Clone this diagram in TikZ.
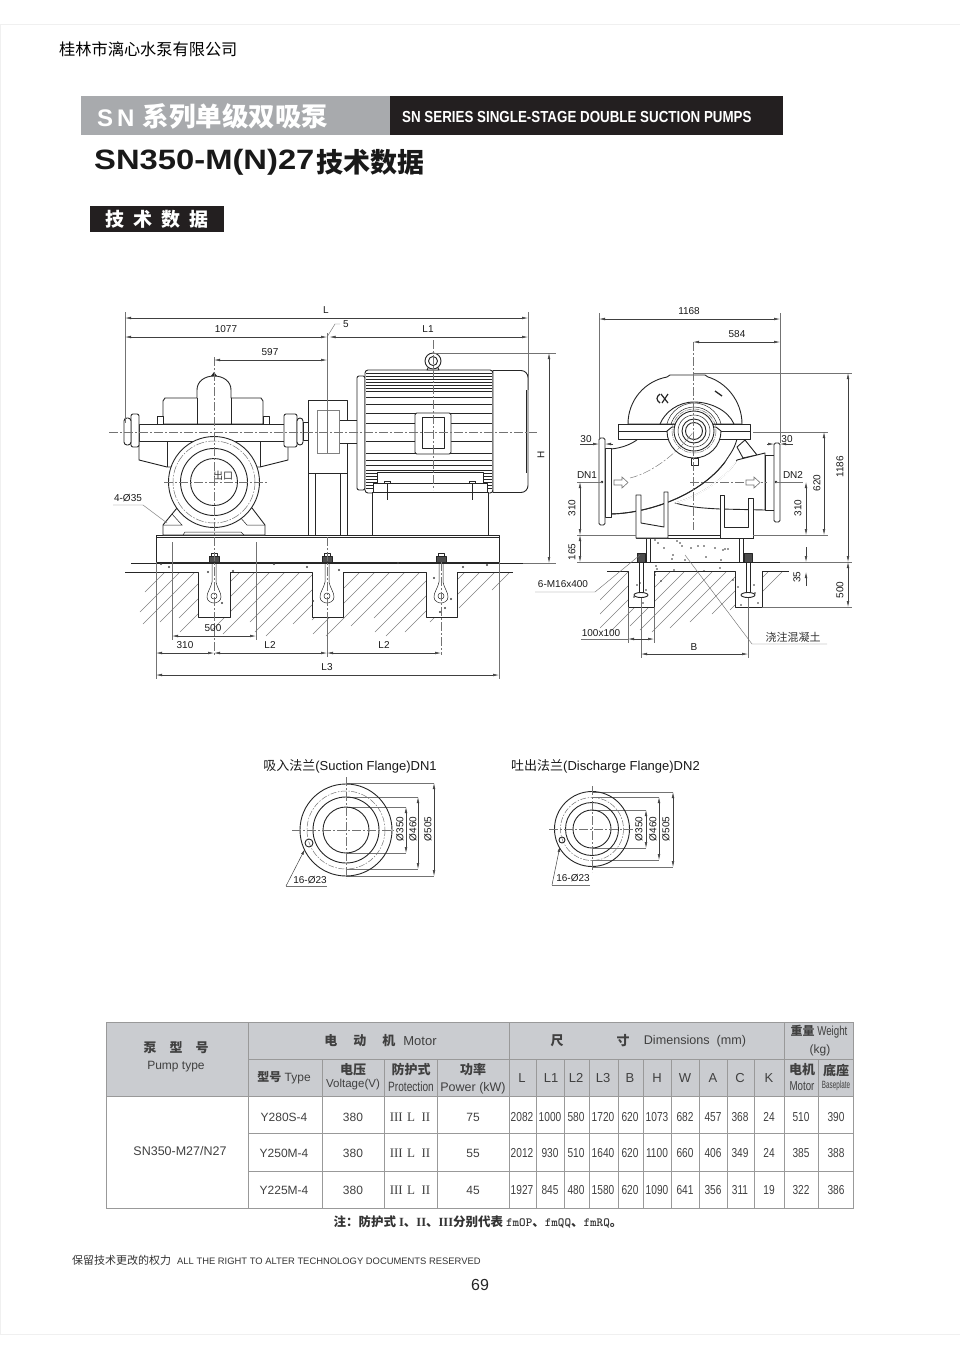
\documentclass[tikz,border=0pt]{standalone}
\usepackage{fontspec}
\setmainfont{Liberation Sans}
\newfontfamily\zhfont{Noto Sans CJK SC}
\newfontfamily\narrowfont[FakeStretch=0.78]{Liberation Sans}
\newfontfamily\condfont[FakeStretch=0.75]{Liberation Sans}
\newfontfamily\tightfont[FakeStretch=0.6]{Liberation Sans}
\newfontfamily\bannerfont[FakeStretch=0.835]{Liberation Sans}
\newfontfamily\widefont[FakeStretch=1.17]{Liberation Sans}
\newfontfamily\romanfont{Liberation Serif}
\newcommand{\zh}[1]{{\zhfont #1}}
\newcommand{\size}[1]{\fontsize{#1}{#1}\selectfont}
\usetikzlibrary{arrows.meta}
\colorlet{ink}{black!85}
\colorlet{faint}{black!55}
\definecolor{headgray}{RGB}{202,204,208}
\definecolor{bannergray}{RGB}{168,170,173}
\definecolor{bannerblack}{RGB}{35,31,32}

\begin{document}
\begin{tikzpicture}[x=1pt,y=-1pt]
\tikzstyle{part}=[draw=ink,line width=0.9pt,line join=round]
\tikzstyle{fine}=[draw=ink,line width=0.5pt]
\tikzstyle{axis}=[draw=faint,line width=0.45pt,dash pattern=on 9pt off 2pt on 2pt off 2pt]
\tikzstyle{ext}=[draw=faint,line width=0.45pt]
\tikzstyle{dim}=[draw=black!75,line width=0.5pt,{Latex[length=6pt,width=2.6pt]}-{Latex[length=6pt,width=2.6pt]}]
\tikzstyle{tip}=[draw=black!75,line width=0.5pt,-{Latex[length=6pt,width=2.6pt]}]
\tikzstyle{hatch}=[draw=black!50,line width=0.45pt]
\tikzstyle{label}=[inner sep=0pt,text=black!90,font=\size{10}]
\tikzstyle{grid}=[draw=black!40,line width=0.6pt]
\tikzstyle{cell}=[inner sep=0pt,text=black!75,font=\size{12}]
\tikzstyle{numb}=[inner sep=0pt,text=black!75,font=\narrowfont\size{13}]
\useasboundingbox (0,0) rectangle (960,1358);

\draw [draw=black!6,line width=0.8pt] (0,24) rectangle (961,1334);

\node [inner sep=0pt,anchor=west,font=\zhfont\size{16.2}] (company) at(59,49) {桂林市漓心水泵有限公司};

\fill [bannergray] (81,96) rectangle (390,135);
\fill [bannerblack] (390,96) rectangle (783,135);
\node [inner sep=0pt,anchor=west,text=white,font=\bfseries\size{24}] (bannerzh) at(97,116) {S\,N\,\,\zh{\bfseries\size{26.5}系列单级双吸泵}};
\node [inner sep=0pt,anchor=west,text=white,font=\bannerfont\bfseries\size{16}] (banneren) at(402,117) {SN SERIES SINGLE-STAGE DOUBLE SUCTION PUMPS};
\node [inner sep=0pt,anchor=west,text=black!90,font=\widefont\bfseries\size{28}] (title) at(94,162) {SN350-M(N)27};
\node [inner sep=0pt,anchor=west,text=black!90,font=\zhfont\bfseries\size{27}] (titlezh) at(316,162) {技术数据};
\fill [bannerblack] (90,206) rectangle (224,232);
\node [inner sep=0pt,text=white,font=\zhfont\bfseries\size{19}] (section) at(157,219) {技\hspace{9pt}术\hspace{9pt}数\hspace{9pt}据};

\begin{scope}
\clip (120,572) -- (198,572) -- (198,617) -- (230,617) -- (230,572) -- (312,572) -- (312,617) -- (343,617) -- (343,572) -- (426,572) -- (426,617) -- (457,617) -- (457,572) -- (530,572) -- (530,660) -- (120,660) -- cycle;
\foreach \x/\hlen in {165/20,180/40,195/52,210/50,225/46,240/60,255/44,270/58,285/62,300/50,315/60,330/64,345/52,360/48,375/62,390/64,405/54,420/46,435/60,450/64,465/60,480/50,495/36,510/18}
\draw [hatch] (\x,572) -- ++(-\hlen,\hlen);
\end{scope}
\begin{scope}
\clip (600,572) -- (628,572) -- (628,607) -- (654,607) -- (654,571) -- (735,571) -- (735,607) -- (762,607) -- (762,572) -- (800,572) -- (800,660) -- (600,660) -- cycle;
\foreach \x/\hlen in {628/28,642/48,656/56,670/60,684/54,698/58,712/60,726/56,740/50,754/42,768/38,782/20}
\draw [hatch] (\x,572) -- ++(-\hlen,\hlen);
\end{scope}

\draw [part] (131,563) -- (523,563);
\draw [part] (125,572) -- (198,572) -- (198,617) -- (230,617) -- (230,572) -- (312,572) -- (312,617) -- (343,617) -- (343,572) -- (426,572) -- (426,617) -- (457,617) -- (457,572) -- (513,572);
\draw [part] (156,535) rectangle (499,562);
\draw [fine] (156,537.5) -- (499,537.5);

\foreach \x in {214,327,441} {
\draw [fine] (\x-2,560) -- (\x-2,582) .. controls (\x-4,590) and (\x-7,592) .. (\x-7,597) .. controls (\x-7,601) and (\x-3,603) .. (\x,603) .. controls (\x+3,603) and (\x+7,601) .. (\x+7,597) .. controls (\x+7,592) and (\x+4,590) .. (\x+2,582) -- (\x+2,560);
\draw [fine] (\x,596) circle (3);
\draw [part,fill=black!70] (\x-5,556) rectangle (\x+5,562);
\draw [part,fill=white] (\x-3,553) rectangle (\x+3,556);
}
\foreach \x/\y in {161/564,169/567,274/564,307/567,339/570,398/563,463/567,487/565,233/571,208/572,222/603,313/601,451/599,445/608,440/612,434/578}
\fill [black!75] (\x,\y) circle (1.1);

\draw [part,fill=white] (163,535) -- (163,525) -- (177,508) -- (252,508) -- (265,525) -- (265,535) -- cycle;
\draw [fine] (163,525) -- (182,525) -- (172,514);
\draw [fine] (265,525) -- (247,525) -- (239,516);
\draw [fine] (183,535) -- (185,532) -- (241,532) -- (244,535);

\draw [part,fill=white] (139,441) -- (139,460) -- (167,467) -- (260,467) -- (288,460) -- (288,441) -- cycle;
\draw [part] (167,441) -- (167,467);
\draw [part] (260,441) -- (260,467);
\draw [part,fill=white] (163,424) -- (163,401) -- (165,398) -- (197,398) -- (197,390) .. controls (197,381) and (205,376) .. (214,376) .. controls (223,376) and (231,381) .. (231,390) -- (231,398) -- (261,398) -- (263,401) -- (263,424) -- cycle;
\draw [part] (197,398) -- (197,424);
\draw [part] (231,398) -- (231,424);
\fill [ink] (211,376) -- (214,372) -- (217,376) -- cycle;
\draw [part,fill=white] (139,424) rectangle (297,441);
\draw [part,fill=white,rounded corners=2pt] (131,414) rectangle (139,447);
\draw [part,fill=white,rounded corners=3pt] (124,418) rectangle (131,445);
\draw [part,fill=white] (157,416) rectangle (163,424);
\draw [part,fill=white] (263,416) rectangle (269,424);
\draw [part,fill=white,rounded corners=2pt] (284,414) rectangle (297,447);
\draw [part,fill=white,rounded corners=3pt] (297,418) rectangle (303,445);
\draw [part,fill=white] (303,422) rectangle (309,440);

\draw [part,fill=white] (214,482) circle (45.5);
\draw [draw=black!55,line width=0.5pt,dash pattern=on 8pt off 1.5pt on 1.5pt off 1.5pt] (214,482) circle (41);
\draw [part] (214,482) circle (33.5);
\draw [part] (214,482) circle (23.5);
\node [inner sep=0pt,text=black!80,font=\zhfont\size{10}] (outlet) at(223,476) {出口};

\draw [part,fill=white] (308,400) rectangle (347,535);
\draw [fine] (308,473) -- (347,473);
\draw [fine] (315,473) -- (315,535);
\draw [fine] (340,473) -- (340,535);
\draw [part,fill=white] (339,420) rectangle (357,443);
\draw [draw=black!50,line width=0.6pt,fill=white] (317,410) rectangle (339,453);
\draw [fine] (327,425) -- (327,453);

\draw [part,fill=white,rounded corners=2pt] (357,376) rectangle (365,490);
\draw [part,fill=white,rounded corners=3pt] (365,370) rectangle (493,493);
\foreach \y in {373,376,379,382,385,388,391,397,404,413,423,441,453,460,465,470,473,476,479,482,485,488}
\draw [fine] (366,\y) -- (492,\y);
\draw [part,fill=white] (493,370.5) [rounded corners=7pt] -- (528,370.5) -- (528,492.5) [sharp corners] -- (493,492.5) -- cycle;
\draw [fine] (526.5,390) -- (526.5,473);
\draw [part,fill=white,rounded corners=2pt] (415,413) rectangle (451,454);
\draw [part,fill=white] (422,417) rectangle (444,448);
\draw [part,fill=white] (427,370) -- (429,366) -- (437,366) -- (439,370) -- cycle;
\draw [part,fill=white] (433,361) circle (8);
\draw [part] (433,361) circle (4.5);

\draw [part,fill=white] (377,483) -- (377,472) -- (483,472) -- (483,483) -- cycle;
\draw [part,fill=white] (373,483) rectangle (487,492);
\draw [part,fill=white] (372,492) rectangle (488,535);
\draw [fine,fill=white] (384,481) rectangle (390,483);
\draw [fine,fill=white] (469,481) rectangle (475,483);
\draw [fine] (387,483) -- (387,500);
\draw [fine] (472,483) -- (472,500);

\draw [axis] (109,432) -- (537,432);
\draw [axis] (214,357) -- (214,655);
\draw [axis] (164,482) -- (268,482);
\draw [axis] (433,340) -- (433,490);
\draw [axis] (327,537) -- (327,617);
\draw [axis] (441,562) -- (441,655);

\draw [ext] (125,312) -- (125,423);
\draw [ext] (528,312) -- (528,390);
\draw [ext] (327,333) -- (327,453);
\draw [ext] (172,542) -- (172,640);
\draw [ext] (256,542) -- (256,640);
\draw [ext] (156,562) -- (156,679);
\draw [ext] (499,562) -- (499,679);
\draw [ext] (327,617) -- (327,657);
\draw [ext] (433,353) -- (556,353);
\draw [ext] (523,563) -- (556,563);
\draw [dim] (125,318) -- (528,318);
\draw [dim] (125,337) -- (327,337);
\draw [dim] (329.5,337) -- (528,337);
\draw [ext] (327,337) -- (335,324) -- (340,324);
\draw [dim] (214,360) -- (327,360);
\draw [dim] (172,636) -- (256,636);
\draw [dim] (156,653) -- (214,653);
\draw [dim] (214,653) -- (327,653);
\draw [dim] (327,653) -- (441,653);
\draw [dim] (156,675) -- (499,675);
\draw [dim] (549,353) -- (549,563);
\draw [ext] (113,505) -- (143,505) -- (167,523);

\node [label] (dimL) at(326,310) {L};
\node [label] (dim1077) at(226,329) {1077};
\node [label] (dimL1) at(428,329) {L1};
\node [label] (dim5) at(346,324) {5};
\node [label] (dim597) at(270,352) {597};
\node [label] (holes35) at(128,498) {4-Ø35};
\node [label] (dim500) at(213,628) {500};
\node [label] (dim310a) at(185,645) {310};
\node [label] (dimL2a) at(270,645) {L2};
\node [label] (dimL2b) at(384,645) {L2};
\node [label] (dimL3) at(327,667) {L3};
\node [label,rotate=90] (dimH) at(541,455) {H};

\draw [part,fill=white] (636,535) rectangle (753,538);
\draw [part,fill=white] (650,538) rectangle (739,562);
\draw [part] (646,538) -- (646,562);
\draw [part] (743,538) -- (743,562);
\foreach \x/\y in {655/540,658/543,664/548,677/541,680/543,682/546,691/548,698/546,704/546,715/548,728/549,725/549,723/550,673/555,672/559,685/560,706/557,721/560,656/566,657/569,674/570,704/571,720/568,637/585,640/583,646/590,643/603,655/575,634/597,661/581,738/587,754/585,755/593,741/605,758/603,733/580}
\fill [black!80] (\x,\y) circle (0.9);

\draw [part] (610,562) -- (780,562);
\draw [part] (607,571) -- (628,571) -- (628,607) -- (654,607) -- (654,571) -- (735,571) -- (735,607) -- (762,607) -- (762,571) -- (789,571);
\foreach \x in {641,748} {
\draw [fine] (\x-2,562) -- (\x-2,598);
\draw [fine] (\x+2,562) -- (\x+2,598);
\draw [part,fill=white] (\x,595) ellipse (7 and 2.5);
\draw [part,fill=black!70] (\x-4,553) rectangle (\x+4,562);
}

\draw [part,fill=white] (628,424) .. controls (628,400) and (645,381) .. (667,377) -- (670,375) -- (705,375) -- (708,377) .. controls (725,382) and (742,400) .. (742,424) -- cycle;
\draw [part] (660,424) .. controls (665,412) and (678,402) .. (694,402) .. controls (710,402) and (728,410) .. (734,424);
\draw [fine] (694,431) circle (28);
\draw [fine] (694,431) circle (24);

\draw [part,fill=white] (737,447) -- (745,440) -- (757,455) -- (743,458) -- cycle;
\draw [part,fill=white] (611,449) .. controls (622,448) and (632,444) .. (638,439) -- (737,439) .. controls (734,450) and (730,454) .. (725,462) .. controls (700,495) and (650,513) .. (611,514) -- cycle;
\draw [part,fill=white] (675,503) .. controls (690,507) and (700,508) .. (720,509) -- (765,510) -- (765,453) -- (737,460) .. controls (725,480) and (695,498) .. (675,503) -- cycle;
\draw [draw=white,line width=1.4pt] (675.5,503) .. controls (695,498) and (725,480) .. (736,461);
\draw [part] (611,514) .. controls (650,513) and (700,495) .. (725,462);
\draw [part,fill=white] (605,448) rectangle (611,517);
\draw [part,fill=white,rounded corners=1.5pt] (599,438) rectangle (605,525);
\draw [part,fill=white] (765,455) rectangle (774,510);
\draw [part,fill=white,rounded corners=1.5pt] (774,443) rectangle (780,522);
\fill [ink] (602,482) circle (1.4);
\fill [ink] (776,482) circle (1.4);

\draw [part,fill=white] (618,424) rectangle (750,439);
\draw [fine] (618,431.5) -- (667,431.5);
\draw [fine] (721,431.5) -- (750,431.5);
\draw [part,fill=white] (667,431) .. controls (667,446) and (679,458) .. (694,458) .. controls (709,458) and (721,446) .. (721,431) -- (716,427) -- (672,427) -- cycle;
\draw [draw=black!55,line width=0.5pt,dash pattern=on 5pt off 1pt on 1pt off 1pt] (694,431) circle (22);
\draw [part,fill=white] (694,431) circle (20);
\draw [fine] (694,431) circle (16);
\draw [part] (694,431) circle (12);
\draw [part] (694,431) circle (8.5);
\draw [part,fill=white] (691,458) rectangle (698,465);
\draw [draw=ink,line width=1.2pt] (660,394) .. controls (656,397) and (656,400) .. (660,403);
\draw [draw=ink,line width=1.2pt] (661,394) -- (668,403);
\draw [draw=ink,line width=1.2pt] (668,394) -- (662,403);
\draw [draw=ink,line width=1.3pt] (715,391) -- (722,396);

\draw [part,fill=white] (636,495) -- (636,538) -- (668,538) -- (668,492) -- (664,492) -- (664,527) -- (641,523) -- (641,495) -- cycle;
\draw [part,fill=white] (720,495) -- (720,538) -- (753,538) -- (753,498) -- (748,498) -- (748,527) -- (724,527) -- (724,495) -- cycle;

\draw [axis] (693,342) -- (693,530);
\draw [axis] (690,482) -- (767,482);
\draw [draw=black!50,line width=0.5pt,dash pattern=on 8pt off 2pt on 2pt off 2pt] (630,478) .. controls (655,472) and (680,450) .. (694,431);
\draw [draw=black!55,line width=0.6pt,fill=white] (614,480) -- (622,480) -- (622,477) -- (628,482.5) -- (622,488) -- (622,485) -- (614,485) -- cycle;
\draw [draw=black!55,line width=0.6pt,fill=white] (746,480) -- (754,480) -- (754,477) -- (760,482.5) -- (754,488) -- (754,485) -- (746,485) -- cycle;

\draw [ext] (599,313) -- (599,438);
\draw [ext] (780,313) -- (780,443);
\draw [ext] (693,373) -- (852,373);
\draw [ext] (753,432) -- (828,432);
\draw [ext] (577,535) -- (636,535);
\draw [ext] (753,535) -- (828,535);
\draw [ext] (577,562) -- (610,562);
\draw [ext] (780,562) -- (852,562);
\draw [ext] (762,607) -- (852,607);
\draw [ext] (628,607) -- (628,643);
\draw [ext] (654,607) -- (654,643);
\draw [ext] (641,598) -- (641,658);
\draw [ext] (748,598) -- (748,658);
\draw [ext] (577,482) -- (602,482);
\draw [ext] (776,482) -- (803,482);
\draw [ext] (535,592) -- (595,592) -- (640,555);
\draw [ext] (685,555) -- (752,644) -- (827,644);
\draw [dim] (599,319) -- (780,319);
\draw [dim] (693,342) -- (780,342);
\draw [dim] (848,373) -- (848,562);
\draw [dim] (848,562) -- (848,607);
\draw [dim] (824,432) -- (824,535);
\draw [dim] (806,482) -- (806,535);
\draw [dim] (580,482) -- (580,535);
\draw [dim] (580,535) -- (580,562);
\draw [tip] (806,547) -- (806,562);
\draw [tip] (806,586) -- (806,572);
\draw [tip] (580,444) -- (599,444);
\draw [tip] (613,444) -- (605,444);
\draw [tip] (767,444) -- (774,444);
\draw [tip] (793,444) -- (780,444);
\draw [ext] (581,639) -- (628,639);
\draw [dim] (628,639) -- (654,639);
\draw [dim] (641,654) -- (748,654);

\node [label] (dim1168) at(689,311) {1168};
\node [label] (dim584) at(737,334) {584};
\node [label,rotate=90] (dim1186) at(840,467) {1186};
\node [label,rotate=90] (dim500b) at(840,590) {500};
\node [label,rotate=90] (dim620) at(817,483) {620};
\node [label,rotate=90] (dim310b) at(798,508) {310};
\node [label,rotate=90] (dim310c) at(572,508) {310};
\node [label,rotate=90] (dim165) at(572,552) {165};
\node [label,rotate=90] (dim35) at(797,577) {35};
\node [label] (dimDN1) at(587,475) {DN1};
\node [label] (dimDN2) at(793,475) {DN2};
\node [label] (dim30a) at(586,439) {30};
\node [label] (dim30b) at(787,439) {30};
\node [label] (bolts) at(563,584) {6-M16x400};
\node [label] (dim100) at(601,633) {100x100};
\node [label] (dimB) at(694,647) {B};
\node [inner sep=0pt,text=black!80,font=\zhfont\size{11}] (grout) at(793,637) {浇注混凝土};

\node [label,font=\zhfont\size{13}] (suction) at(350,766) {\zh{吸入法兰}{\fontspec{Liberation Sans}(Suction Flange)DN1}};
\node [label,font=\zhfont\size{13}] (discharge) at(605.5,766) {\zh{吐出法兰}{\fontspec{Liberation Sans}(Discharge Flange)DN2}};

\draw [ext] (346,783) -- (434,783);
\draw [ext] (346,797) -- (418,797);
\draw [ext] (346,807) -- (406,807);
\draw [ext] (346,853) -- (406,853);
\draw [ext] (346,869) -- (418,869);
\draw [ext] (346,876) -- (434,876);
\draw [part] (346,830) circle (46);
\draw [draw=black!55,line width=0.5pt,dash pattern=on 6pt off 1.5pt on 1.5pt off 1.5pt] (346,830) circle (39);
\draw [part] (346,830) circle (33);
\draw [part] (346,830) circle (23);
\draw [part] (309,843) circle (4);
\draw [axis] (292,830) -- (394,830);
\draw [axis] (346,777) -- (346,878);
\draw [dim] (406,807) -- (406,853);
\draw [dim] (418,797) -- (418,869);
\draw [dim] (434,783) -- (434,876);
\draw [ext] (327,886) -- (286,886);
\draw [tip] (286,886) -- (305,849);
\node [label,rotate=90] (flange1a) at(400,829) {Ø350};
\node [label,rotate=90] (flange1b) at(413,829) {Ø460};
\node [label,rotate=90] (flange1c) at(428,829) {Ø505};
\node [label] (flange1d) at(310,880) {16-Ø23};

\draw [ext] (592,792) -- (673,792);
\draw [ext] (592,797) -- (659,797);
\draw [ext] (592,810) -- (646,810);
\draw [ext] (592,848) -- (646,848);
\draw [ext] (592,860) -- (659,860);
\draw [ext] (592,867) -- (673,867);
\draw [part] (592,829) circle (37.5);
\draw [draw=black!55,line width=0.5pt,dash pattern=on 6pt off 1.5pt on 1.5pt off 1.5pt] (592,829) circle (31.5);
\draw [part] (592,829) circle (26.5);
\draw [part] (592,829) circle (19);
\draw [part] (562,840) circle (3);
\draw [axis] (549,829) -- (636,829);
\draw [axis] (592,786) -- (592,872);
\draw [dim] (646,810) -- (646,848);
\draw [dim] (659,797) -- (659,860);
\draw [dim] (673,792) -- (673,867);
\draw [ext] (590,885) -- (552,885);
\draw [tip] (552,885) -- (560,846);
\node [label,rotate=90] (flange2a) at(639,829) {Ø350};
\node [label,rotate=90] (flange2b) at(653,829) {Ø460};
\node [label,rotate=90] (flange2c) at(666,829) {Ø505};
\node [label] (flange2d) at(573,878) {16-Ø23};

\fill [headgray] (106,1022) rectangle (853,1096);
\draw [grid] (106,1022) rectangle (853,1208);
\draw [grid] (248,1059) -- (853,1059);
\draw [grid] (106,1096) -- (853,1096);
\draw [grid] (248,1133) -- (853,1133);
\draw [grid] (248,1171) -- (853,1171);
\draw [grid] (248,1022) -- (248,1208);
\draw [grid] (509,1022) -- (509,1208);
\draw [grid] (784,1022) -- (784,1208);
\foreach \x in {322,384,437,536,564,589,618,643,671,699,727,754,818}
\draw [grid] (\x,1059) -- (\x,1208);

\node [cell] (pumpzh) at(176,1048) {\zh{\bfseries\size{13}泵\quad 型\quad 号}};
\node [cell] (pumpen) at(176,1067) {Pump type};
\node [cell,font=\size{13}] (motorhead) at(380.5,1041) {\zh{\bfseries 电\hspace{16pt}动\hspace{16pt}机}\hspace{8pt}Motor};
\node [cell] (typehead) at(284,1078) {\zh{\bfseries 型号} Type};
\node [cell] (volthead) at(353,1070) {\zh{\bfseries\size{13}电压}};
\node [cell,font=\size{11.5}] (voltunit) at(353,1085) {Voltage(V)};
\node [cell] (prothead) at(411,1070) {\zh{\bfseries\size{13}防护式}};
\node [cell] (protunit) at(411,1087) {\condfont\size{13.5}Protection};
\node [cell] (powhead) at(473,1070) {\zh{\bfseries\size{13}功率}};
\node [cell,font=\size{12.5}] (powunit) at(473,1088) {Power (kW)};
\node [cell] (dimchar1) at(557,1041) {\zh{\bfseries\size{13}尺}};
\node [cell] (dimchar2) at(623,1041) {\zh{\bfseries\size{13}寸}};
\node [cell,font=\size{12.6}] (dimhead) at(695,1041) {Dimensions\ \ (mm)};
\node [cell] (weighthead) at(819,1032) {\zh{\bfseries 重量}\condfont\size{13}\ Weight};
\node [cell] (weightunit) at(820,1050) {(kg)};
\node [cell] (motorkg) at(802,1070) {\zh{\bfseries\size{13}电机}};
\node [cell] (motorkgen) at(802,1086) {\condfont\size{13}Motor};
\node [cell] (basekg) at(836,1070) {\zh{\bfseries\size{13}底座}};
\node [cell] (basekgen) at(836,1086) {\tightfont\size{10.5}Baseplate};
\foreach \cx/\ctext in {522/L,551/L1,576/L2,603/L3,630/B,657/H,685/W,713/A,740/C,769/K}
\node [cell,font=\size{13}] (head\cx) at(\cx,1078) {\ctext};

\node [cell,font=\size{12.5}] (series) at(180,1151) {SN350-M27/N27};
\node [cell] (type1) at(284,1117) {Y280S-4};
\node [cell] (type2) at(284,1153) {Y250M-4};
\node [cell] (type3) at(284,1190) {Y225M-4};
\foreach \ry in {1117,1153,1190} {
\node [cell] (volt\ry) at(353,\ry) {380};
\node [cell,font=\romanfont\size{13}] (prot\ry) at(410,\ry) {III\,\,L\,\,\,II};
}
\node [cell] (pow1) at(473,1117) {75};
\node [cell] (pow2) at(473,1153) {55};
\node [cell] (pow3) at(473,1190) {45};
\foreach \cx/\ctext in {522/2082,550/1000,576/580,603/1720,630/620,657/1073,685/682,713/457,740/368,769/24,801/510,836/390}
\node [numb] (one\cx) at(\cx,1117) {\ctext};
\foreach \cx/\ctext in {522/2012,550/930,576/510,603/1640,630/620,657/1100,685/660,713/406,740/349,769/24,801/385,836/388}
\node [numb] (two\cx) at(\cx,1153) {\ctext};
\foreach \cx/\ctext in {522/1927,550/845,576/480,603/1580,630/620,657/1090,685/641,713/356,740/311,769/19,801/322,836/386}
\node [numb] (three\cx) at(\cx,1190) {\ctext};

\node [inner sep=0pt,text=black!80,font=\zhfont\bfseries\size{12.5}] (tablenote) at(478,1222) {注：防护式 {\romanfont I}、{\romanfont II}、{\romanfont III}分别代表 {\ttfamily fmOP}、{\ttfamily fmQQ}、{\ttfamily fmRQ}。};
\node [inner sep=0pt,anchor=west,text=black!80,font=\size{9.4}] (rights) at(72,1260) {\zh{\size{11}保留技术更改的权力}\hspace{6pt}ALL THE RIGHT TO ALTER TECHNOLOGY DOCUMENTS RESERVED};
\node [inner sep=0pt,text=black!85,font=\size{16}] (pageno) at(480,1285) {69};
\end{tikzpicture}
\end{document}
